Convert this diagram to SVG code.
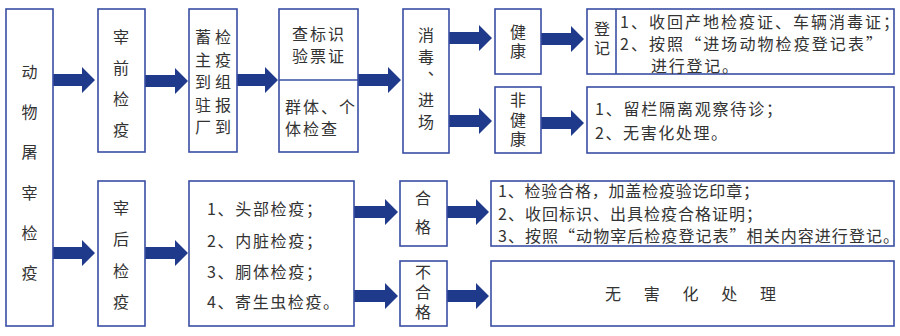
<svg xmlns="http://www.w3.org/2000/svg" width="900" height="336" viewBox="0 0 900 336">
<style>
.b{fill:#fff;stroke:#3a4ea3;stroke-width:1.6}
.l{stroke:#3a4ea3;stroke-width:1.6;fill:none}
.t{font-family:"Noto Sans CJK SC","Noto Sans",sans-serif;font-size:16px;fill:#333;dominant-baseline:central}
.c{text-anchor:middle}
.v{writing-mode:vertical-rl;text-anchor:start}
.a{fill:#1f3a8a}
</style>
<rect width="900" height="336" fill="#fff"/>
<g id="connectors">
<polygon class="a" points="53,74 82,74 82,67 95,80 82,93 82,86 53,86"/>
<polygon class="a" points="145,75 175,75 175,68 188,81 175,94 175,87 145,87"/>
<polygon class="a" points="237,74 265,74 265,67 278,80 265,93 265,86 237,86"/>
<polygon class="a" points="358,74 388,74 388,67 401,80 388,93 388,86 358,86"/>
<polygon class="a" points="449,32 479,32 479,25 492,38 479,51 479,44 449,44"/>
<polygon class="a" points="449,115 479,115 479,108 492,121 479,134 479,127 449,127"/>
<polygon class="a" points="541,33 571,33 571,26 584,39 571,52 571,45 541,45"/>
<polygon class="a" points="541,117 571,117 571,110 584,123 571,136 571,129 541,129"/>
<polygon class="a" points="53,247 82,247 82,240 95,253 82,266 82,259 53,259"/>
<polygon class="a" points="145,247 175,247 175,240 188,253 175,266 175,259 145,259"/>
<polygon class="a" points="354,206 385,206 385,199 398,212 385,225 385,218 354,218"/>
<polygon class="a" points="354,290 385,290 385,283 398,296 385,309 385,302 354,302"/>
<polygon class="a" points="447,206 476,206 476,199 489,212 476,225 476,218 447,218"/>
<polygon class="a" points="447,290 476,290 476,283 489,296 476,309 476,302 447,302"/>
</g>
<g id="n-slaughter">
<rect class="b" x="6" y="9" width="47" height="317"/>
<text class="t v" x="29.5" y="64" letter-spacing="24.2">动物屠宰检疫</text>
</g>
<g id="n-pre">
<rect class="b" x="98" y="9" width="47" height="143"/>
<text class="t v" x="121" y="29" letter-spacing="15">宰前检疫</text>
</g>
<g id="n-report">
<rect class="b" x="189" y="9" width="48" height="143"/>
<text class="t v" x="203" y="29" letter-spacing="6.5">蓄主到驻厂</text>
<text class="t v" x="223" y="29" letter-spacing="6.5">检疫组报到</text>
</g>
<g id="n-check">
<rect class="b" x="279" y="9" width="79" height="143"/>
<line class="l" x1="279" y1="80" x2="358" y2="80"/>
<text class="t c" x="318" y="33" textLength="52" lengthAdjust="spacing">查标识</text>
<text class="t c" x="318" y="55" textLength="52" lengthAdjust="spacing">验票证</text>
<text class="t" x="285" y="106" textLength="70" lengthAdjust="spacing">群体、个</text>
<text class="t" x="285" y="128" textLength="52" lengthAdjust="spacing">体检查</text>
</g>
<g id="n-disinfect">
<rect class="b" x="403" y="9" width="46" height="144"/>
<text class="t v" x="426" y="27" letter-spacing="5.8">消毒、进场</text>
</g>
<g id="n-healthy">
<rect class="b" x="495" y="9" width="46" height="65"/>
<text class="t v" x="518" y="24" letter-spacing="3">健康</text>
</g>
<g id="n-unhealthy">
<rect class="b" x="495" y="87" width="46" height="66"/>
<text class="t v" x="518" y="92" letter-spacing="3.5">非健康</text>
</g>
<g id="n-register">
<rect class="b" x="587" y="9" width="307" height="65"/>
<line class="l" x1="616" y1="9" x2="616" y2="74"/>
<text class="t v" x="602" y="21" letter-spacing="3">登记</text>
<text class="t" x="620" y="21" textLength="279" lengthAdjust="spacing">1、收回产地检疫证、车辆消毒证；</text>
<text class="t" x="620" y="43" textLength="262" lengthAdjust="spacing">2、按照“进场动物检疫登记表”</text>
<text class="t" x="651" y="65" textLength="87" lengthAdjust="spacing">进行登记。</text>
</g>
<g id="n-isolate">
<rect class="b" x="587" y="87" width="307" height="66"/>
<text class="t" x="595" y="108" textLength="187" lengthAdjust="spacing">1、留栏隔离观察待诊；</text>
<text class="t" x="595" y="132" textLength="132" lengthAdjust="spacing">2、无害化处理。</text>
</g>
<g id="n-post">
<rect class="b" x="98" y="181" width="47" height="145"/>
<text class="t v" x="121" y="200" letter-spacing="15.3">宰后检疫</text>
</g>
<g id="n-items">
<rect class="b" x="189" y="181" width="165" height="145"/>
<text class="t" x="207" y="208" textLength="115" lengthAdjust="spacing">1、头部检疫；</text>
<text class="t" x="207" y="240" textLength="115" lengthAdjust="spacing">2、内脏检疫；</text>
<text class="t" x="207" y="271" textLength="115" lengthAdjust="spacing">3、胴体检疫；</text>
<text class="t" x="207" y="301" textLength="132" lengthAdjust="spacing">4、寄生虫检疫。</text>
</g>
<g id="n-pass">
<rect class="b" x="400" y="181" width="47" height="65"/>
<text class="t v" x="423" y="190" letter-spacing="13">合格</text>
</g>
<g id="n-fail">
<rect class="b" x="400" y="261" width="47" height="65"/>
<text class="t v" x="423" y="264" letter-spacing="4">不合格</text>
</g>
<g id="n-pass-action">
<rect class="b" x="491" y="181" width="403" height="65"/>
<text class="t" x="498" y="190" textLength="261" lengthAdjust="spacing">1、检验合格，加盖检疫验讫印章；</text>
<text class="t" x="498" y="213" textLength="264" lengthAdjust="spacing">2、收回标识、出具检疫合格证明；</text>
<text class="t" x="498" y="235" textLength="401" lengthAdjust="spacing">3、按照“动物宰后检疫登记表”相关内容进行登记。</text>
</g>
<g id="n-fail-action">
<rect class="b" x="491" y="261" width="403" height="65"/>
<text class="t" x="605" y="293" letter-spacing="22.75">无害化处理</text>
</g>
</svg>
